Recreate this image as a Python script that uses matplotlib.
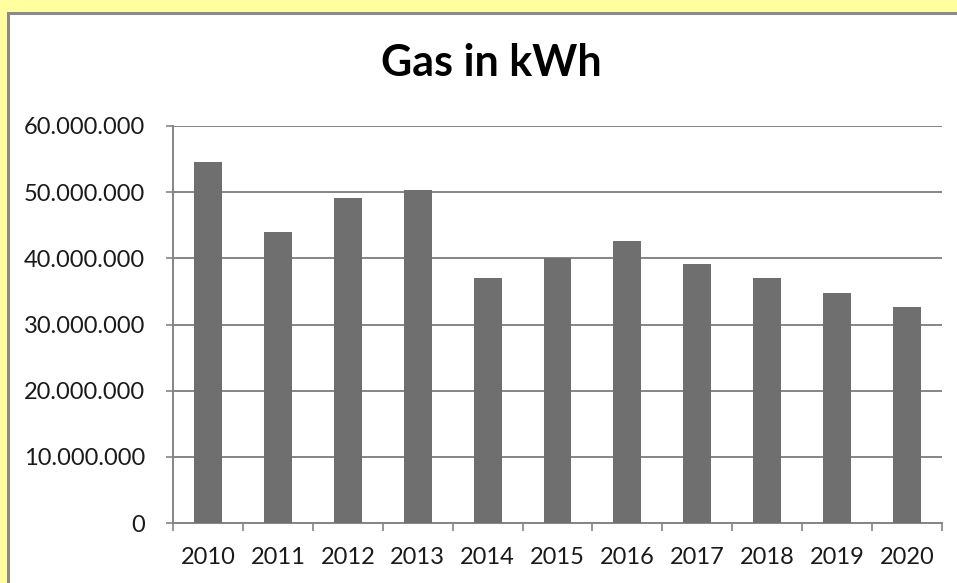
import matplotlib.pyplot as plt
import matplotlib.patches as mpatches
from matplotlib.ticker import FuncFormatter, FixedLocator
import numpy as np

# Yearly gas consumption
years = ["2010", "2011", "2012", "2013", "2014", "2015",
         "2016", "2017", "2018", "2019", "2020"]
gas_kwh = [54_600_000, 44_000_000, 49_100_000, 50_400_000, 37_100_000,
           40_000_000, 42_600_000, 39_200_000, 37_100_000, 34_700_000,
           32_600_000]
y_ticks = [0, 10_000_000, 20_000_000, 30_000_000, 40_000_000,
           50_000_000, 60_000_000]

FONT = "Lato"
BAR_COLOR = "#6f6f6f"
LINE_COLOR = "#858585"


def dotted_thousands(v, _pos):
    return f"{int(v):,}".replace(",", ".")


fig = plt.figure(figsize=(9.57, 5.83), dpi=100)
fig.patch.set_facecolor("#ffffa0")

# white chart frame, running off the right and bottom edges
frame = mpatches.Rectangle((8 / 957, -0.05), 1.1, 1 - 13 / 583 + 0.05,
                           transform=fig.transFigure, facecolor="white",
                           edgecolor="#8a8a8a", linewidth=2.2, zorder=-5)
fig.patches.append(frame)

ax = fig.add_axes([173 / 957, 1 - 523 / 583, 769 / 957, 397 / 583])
ax.set_zorder(2)
ax.set_facecolor("white")

x = np.arange(len(years))
ax.bar(x, gas_kwh, width=0.4, color=BAR_COLOR, zorder=3)

ax.set_xlim(-0.5, len(years) - 0.5)
ax.set_ylim(0, 60_000_000)
ax.set_yticks(y_ticks)
ax.yaxis.set_major_formatter(FuncFormatter(dotted_thousands))
ax.grid(axis="y", color=LINE_COLOR, linewidth=1.4, zorder=1)

# year labels centred under bars, tick marks between categories
ax.set_xticks(x)
ax.set_xticklabels(years)
ax.xaxis.set_minor_locator(FixedLocator(np.arange(-0.5, len(years), 1.0)))
ax.tick_params(axis="x", which="major", length=0, pad=17)
ax.tick_params(axis="x", which="minor", length=6, width=1.2, color=LINE_COLOR)
ax.tick_params(axis="y", length=5, width=1.2, color=LINE_COLOR, pad=15)

for lbl in ax.get_xticklabels() + ax.get_yticklabels():
    lbl.set_fontfamily(FONT)
    lbl.set_fontsize(17)
    lbl.set_color("#1a1a1a")

for side in ("top", "right"):
    ax.spines[side].set_visible(False)
for side in ("left", "bottom"):
    ax.spines[side].set_color(LINE_COLOR)
    ax.spines[side].set_linewidth(1.4)

fig.text(491 / 957, 1 - 63 / 583, "Gas in kWh", ha="center", va="center",
         fontfamily=FONT, fontweight="bold", fontsize=31, color="black")

fig.savefig("out.png", dpi=100, facecolor=fig.get_facecolor())
